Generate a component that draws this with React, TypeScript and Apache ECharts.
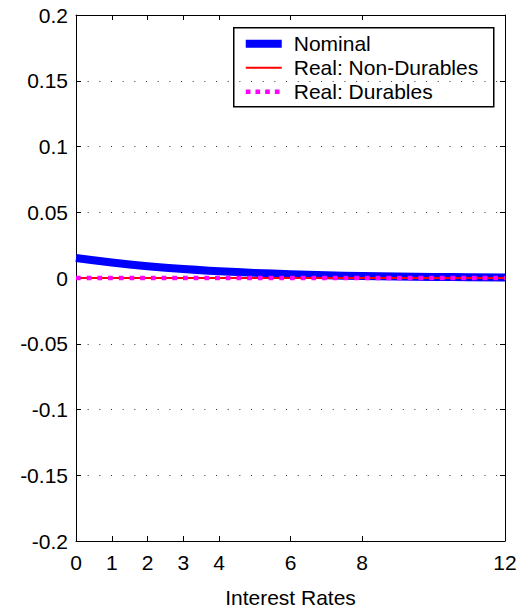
import React, { useEffect, useRef } from "react";
import * as echarts from "echarts";

const xValues = [0, 1, 2, 3, 4, 5, 6, 7, 8, 9, 10, 11, 12];
const nominal = [0.0152, 0.0118, 0.009, 0.0068, 0.0052, 0.0039, 0.0029, 0.0021, 0.0015, 0.0011, 0.0008, 0.0006, 0.0004];
const realNonDurables = [0, 0, 0, 0, 0, 0, 0, 0, 0, 0, 0, 0, 0];
const realDurables = [0, 0, 0, 0, 0, 0, 0, 0, 0, 0, 0, 0, 0];
const xTickValues = [0, 1, 2, 3, 4, 6, 8, 12];
const seriesNames = ["Nominal", "Real: Non-Durables", "Real: Durables"];
const xAxisTitle = "Interest Rates";

const FONT = "Liberation Sans, Arial, Helvetica, sans-serif";
const FS = 21;

export default function App() {
  const ref = useRef<HTMLDivElement>(null);
  useEffect(() => {
    if (!ref.current) return;
    const chart = echarts.init(ref.current, null, { renderer: "svg" });
    const pair = (ys: number[]) => xValues.map((x, i) => [x, ys[i]]);
    const tickStyle = { show: true, inside: true, length: 5, lineStyle: { color: "#000", width: 1 } };
    const option: any = {
      animation: false,
      backgroundColor: "#fff",
      grid: { left: 76, right: 26, top: 15, bottom: 71, containLabel: false },
      xAxis: [
        {
          type: "value",
          position: "bottom",
          min: 0,
          max: 12,
          interval: 1,
          name: xAxisTitle,
          nameLocation: "middle",
          nameGap: 46,
          nameTextStyle: { color: "#000", fontSize: FS, fontFamily: FONT },
          axisLine: { show: true, onZero: false, lineStyle: { color: "#000", width: 1 } },
          axisTick: { ...tickStyle, customValues: xTickValues },
          axisLabel: { color: "#000", fontSize: FS, fontFamily: FONT, margin: 11, customValues: xTickValues },
          splitLine: { show: false },
        },
        {
          type: "value",
          position: "top",
          min: 0,
          max: 12,
          interval: 1,
          axisLine: { show: true, onZero: false, lineStyle: { color: "#000", width: 1 } },
          axisTick: { ...tickStyle, customValues: xTickValues },
          axisLabel: { show: false },
          splitLine: { show: false },
        },
      ],
      yAxis: [
        {
          type: "value",
          position: "left",
          min: -0.2,
          max: 0.2,
          interval: 0.05,
          axisLine: { show: true, onZero: false, lineStyle: { color: "#000", width: 1 } },
          axisTick: tickStyle,
          axisLabel: {
            color: "#000",
            fontSize: FS,
            fontFamily: FONT,
            margin: 8,
            formatter: (v: number) => String(parseFloat(v.toFixed(2))),
          },
          splitLine: { show: true, lineStyle: { color: "#333", width: 1, type: [1, 10.67] } },
        },
        {
          type: "value",
          position: "right",
          min: -0.2,
          max: 0.2,
          interval: 0.05,
          axisLine: { show: true, onZero: false, lineStyle: { color: "#000", width: 1 } },
          axisTick: tickStyle,
          axisLabel: { show: false },
          splitLine: { show: false },
        },
      ],
      legend: { show: false },
      series: [
        {
          name: seriesNames[0],
          type: "line",
          data: pair(nominal),
          showSymbol: false,
          smooth: 0.5,
          lineStyle: { color: "#0000ff", width: 8, join: "round" },
          z: 2,
        },
        {
          name: seriesNames[1],
          type: "line",
          data: pair(realNonDurables),
          showSymbol: false,
          lineStyle: { color: "#ff0000", width: 2 },
          z: 3,
        },
        {
          name: seriesNames[2],
          type: "line",
          data: pair(realDurables),
          showSymbol: false,
          lineStyle: { color: "#ff00ff", width: 4.5, type: [4.7, 6], cap: "butt" },
          z: 4,
        },
      ],
      graphic: [
        {
          type: "group",
          left: 233,
          top: 27,
          z: 100,
          children: [
            {
              type: "rect",
              shape: { x: 0, y: 0, width: 260, height: 79 },
              style: { fill: "#fff", stroke: "#000", lineWidth: 1.5 },
            },
            {
              type: "line",
              shape: { x1: 12, y1: 16, x2: 48, y2: 16 },
              style: { stroke: "#0000ff", lineWidth: 8 },
            },
            {
              type: "line",
              shape: { x1: 12, y1: 40, x2: 48, y2: 40 },
              style: { stroke: "#ff0000", lineWidth: 2 },
            },
            {
              type: "line",
              shape: { x1: 12, y1: 64, x2: 48, y2: 64 },
              style: { stroke: "#ff00ff", lineWidth: 4.5, lineDash: [4.7, 5], lineCap: "butt" },
            },
            {
              type: "text",
              x: 60,
              y: 16,
              style: { text: seriesNames[0], fill: "#000", fontSize: FS, fontFamily: FONT, verticalAlign: "middle" },
            },
            {
              type: "text",
              x: 60,
              y: 40,
              style: { text: seriesNames[1], fill: "#000", fontSize: FS, fontFamily: FONT, verticalAlign: "middle" },
            },
            {
              type: "text",
              x: 60,
              y: 64,
              style: { text: seriesNames[2], fill: "#000", fontSize: FS, fontFamily: FONT, verticalAlign: "middle" },
            },
          ],
        },
      ],
    };
    chart.setOption(option);
    return () => chart.dispose();
  }, []);
  return (
    <div
      ref={ref}
      style={{ position: "absolute", left: 0, top: 0, width: 531, height: 613, background: "#fff" }}
    />
  );
}
